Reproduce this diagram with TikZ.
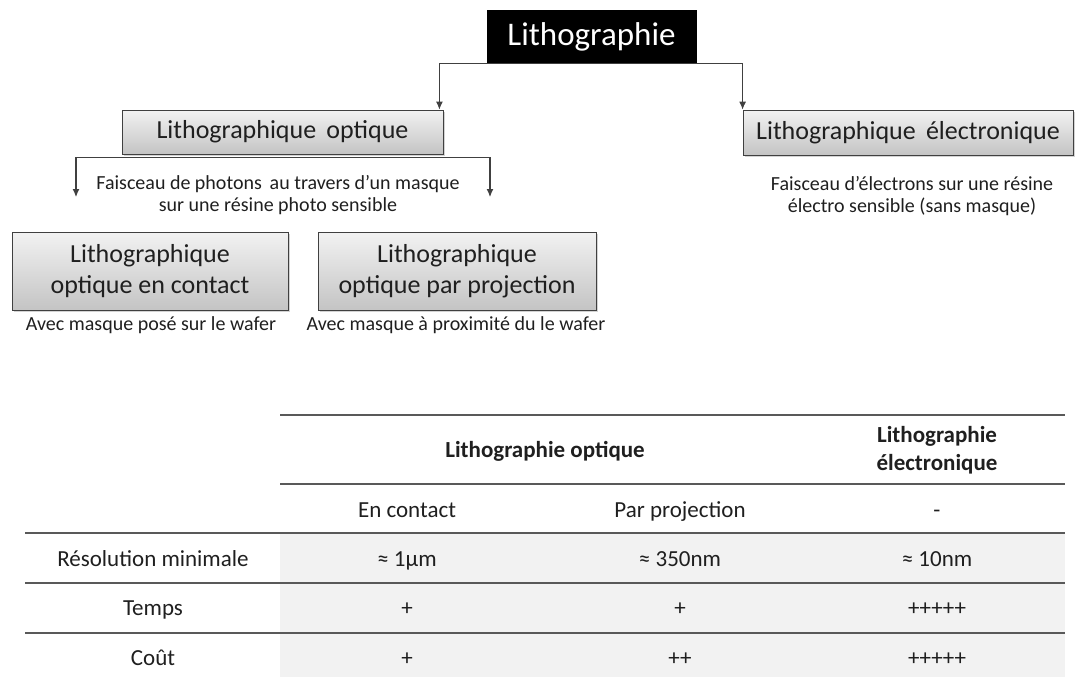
\documentclass[tikz,border=0pt]{standalone}
\usepackage{fontspec}
\setmainfont{Carlito}
\usetikzlibrary{arrows.meta,positioning,shadows}
\definecolor{lithoLine}{HTML}{404040}
\definecolor{lithoTop}{HTML}{F2F2F2}
\definecolor{lithoBottom}{HTML}{C4C4C4}
\definecolor{lithoRule}{HTML}{595959}
\definecolor{lithoCell}{HTML}{F2F2F2}

\begin{document}
\begin{tikzpicture}[x=1pt,y=-1pt,>={Latex[length=8pt,width=7pt]},text=black!88]
\tikzstyle{titlebox}=[draw=black,fill=black,text=white,minimum width=209pt,minimum height=53pt,inner sep=0pt,font=\fontsize{33}{38}\selectfont]
\tikzstyle{lithobox}=[draw=lithoLine,line width=.8pt,top color=lithoTop,bottom color=lithoBottom,drop shadow={opacity=.35,shadow xshift=1.5pt,shadow yshift=-2pt},inner sep=0pt,align=center,font=\fontsize{26}{31}\selectfont]
\tikzstyle{note}=[anchor=base,inner sep=0pt,align=center,font=\fontsize{20}{22}\selectfont]
\tikzstyle{cell}=[anchor=base,inner sep=0pt,align=center,font=\fontsize{23}{28}\selectfont]
\tikzstyle{head}=[cell,font=\fontsize{23}{28}\selectfont\bfseries]
\tikzstyle{link}=[->,draw=lithoLine,line width=1.1pt]
\tikzstyle{rule}=[draw=lithoRule,line width=1.6pt]
\useasboundingbox (0,0) rectangle (1077,677);
% arbre
\node[titlebox] (litho) at (591.5,36.5) {Lithographie};
\node[lithobox,minimum width=321pt,minimum height=44pt] (optique) at (282.5,132) {Lithographique\, optique};
\node[lithobox,minimum width=330pt,minimum height=45pt] (elec) at (908,132.5) {Lithographique\, électronique};
\node[lithobox,minimum width=276pt,minimum height=78pt] (contact) at (150,271) {Lithographique\\optique en contact};
\node[lithobox,minimum width=278pt,minimum height=78pt] (proj) at (457,271) {Lithographique\\optique par projection};
% base = derniere ligne
\node[note] (photons) at (278,211) {Faisceau de photons\,\ au travers d’un masque\\sur une résine photo sensible};
\node[note] (electrons) at (912,212) {Faisceau d’électrons sur une résine\\électro sensible (sans masque)};
\node[note] (capContact) at (151,330) {Avec masque posé sur le wafer};
\node[note] (capProj) at (456,330) {Avec masque à proximité du le wafer};
\coordinate (optL) at (76,197);
\coordinate (optR) at (490,197);
\draw[link] (litho.south) -| ([xshift=-4pt]optique.north east);
\draw[link] (litho.south) -| (elec.north west);
\foreach \c in {optL,optR}{\draw[link] ([yshift=-3pt]optique.south) -| (\c);}
% tableau
\fill[lithoCell] (280,533) rectangle (1065,677);
\foreach \y/\x in {415/280,484/280,533/25,583/25,633/25}{\draw[rule] (\x,\y) -- (1065,\y);}
\node[head] (hOpt) at (545,457) {Lithographie optique};
\node[head] (hElec) at (937,470) {Lithographie\\électronique};
\node[cell] (hContact) at (407,517) {En contact};
\node[cell] (hProj) at (680,517) {Par projection};
\node[cell] (hNone) at (937,517) {-};
\node[cell] (rRes) at (153,566) {Résolution minimale};
\node[cell] (rTemps) at (153,615) {Temps};
\node[cell] (rCout) at (153,665) {Coût};
\node[cell] (res1) at (407,566) {≈ 1µm};
\node[cell] (res2) at (680,566) {≈ 350nm};
\node[cell] (res3) at (937,566) {≈ 10nm};
\node[cell] (t1) at (407,615) {+};
\node[cell] (t2) at (680,615) {+};
\node[cell] (t3) at (937,615) {+++++};
\node[cell] (c1) at (407,665) {+};
\node[cell] (c2) at (680,665) {++};
\node[cell] (c3) at (937,665) {+++++};
\end{tikzpicture}
\end{document}
